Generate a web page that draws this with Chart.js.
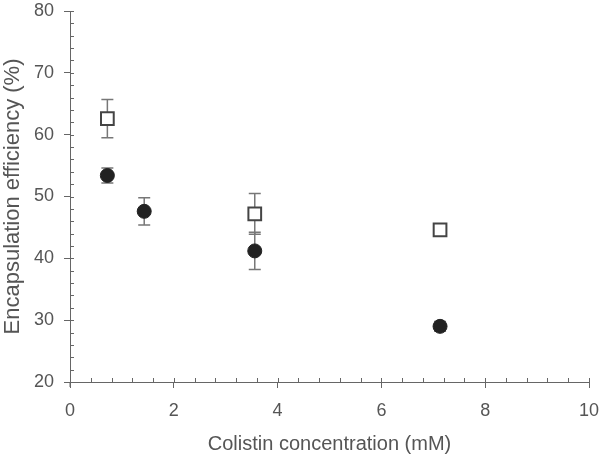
<!DOCTYPE html>
<html>
<head>
<meta charset="utf-8">
<script src="https://cdn.jsdelivr.net/npm/chart.js@4.4.1/dist/chart.umd.min.js"></script>
<style>
  html, body { margin: 0; padding: 0; background: #fff; }
  #wrap { width: 600px; height: 456px; }
</style>
</head>
<body>
<div id="wrap"><canvas id="chart"></canvas></div>
<script>
// colistin concentration (mM)
const circleX = [0.72, 1.43, 3.56, 7.13];
const circleY = [53.4, 47.6, 41.2, 29.0];
const circleErr = [1.2, 2.2, 3.0, 0.8];

const squareX = [0.72, 3.56, 7.13];
const squareY = [62.6, 47.2, 44.6];
const squareErr = [3.1, 3.3, 0.4];

const xTicks = [0, 2, 4, 6, 8, 10];
const yTicks = [20, 30, 40, 50, 60, 70, 80];

const toPoints = (xs, ys) => xs.map((x, i) => ({ x: x, y: ys[i] }));

const axisColor = '#666';
const textColor = '#555';

// error bars + minor ticks, drawn through the scales
const extras = {
  id: 'extras',
  beforeDatasetsDraw(chart) {
    const ctx = chart.ctx;
    const xs = chart.scales.x, ys = chart.scales.y;
    ctx.save();
    ctx.strokeStyle = '#777';
    ctx.lineWidth = 1.5;
    chart.data.datasets.forEach(ds => {
      ds.data.forEach((p, i) => {
        const e = ds.errors[i];
        const px = xs.getPixelForValue(p.x);
        const top = ys.getPixelForValue(p.y + e);
        const bot = ys.getPixelForValue(p.y - e);
        ctx.beginPath();
        ctx.moveTo(px, top); ctx.lineTo(px, bot);
        ctx.moveTo(px - 6, top); ctx.lineTo(px + 6, top);
        ctx.moveTo(px - 6, bot); ctx.lineTo(px + 6, bot);
        ctx.stroke();
      });
    });
    ctx.restore();
  },
  afterDraw(chart) {
    const ctx = chart.ctx;
    const xs = chart.scales.x, ys = chart.scales.y;
    const area = chart.chartArea;
    ctx.save();
    ctx.strokeStyle = axisColor;
    ctx.lineWidth = 1;
    ctx.beginPath();
    for (let v = 0; v <= 10.001; v += 0.4) {
      const px = Math.round(xs.getPixelForValue(v)) + 0.5;
      ctx.moveTo(px, area.bottom); ctx.lineTo(px, area.bottom - 4);
    }
    for (let v = 20; v <= 80.001; v += 2) {
      const py = Math.round(ys.getPixelForValue(v)) + 0.5;
      ctx.moveTo(area.left, py); ctx.lineTo(area.left + 4, py);
    }
    // y axis runs a little past the x axis
    ctx.moveTo(area.left, area.bottom); ctx.lineTo(area.left, area.bottom + 5);
    ctx.stroke();
    ctx.restore();
  }
};

new Chart(document.getElementById('chart'), {
  type: 'scatter',
  data: {
    datasets: [
      {
        label: 'circles',
        data: toPoints(circleX, circleY),
        errors: circleErr,
        pointStyle: 'circle',
        pointRadius: 7,
        pointHoverRadius: 7,
        backgroundColor: '#222',
        borderColor: '#222',
        borderWidth: 1
      },
      {
        label: 'squares',
        data: toPoints(squareX, squareY),
        errors: squareErr,
        pointStyle: 'rect',
        pointRadius: 9,
        pointHoverRadius: 9,
        backgroundColor: '#fff',
        borderColor: '#444',
        borderWidth: 2
      }
    ]
  },
  options: {
    responsive: true,
    maintainAspectRatio: false,
    animation: false,
    layout: { padding: { top: 9, right: 11, left: 0, bottom: 0 } },
    plugins: { legend: { display: false }, tooltip: { enabled: false } },
    scales: {
      x: {
        type: 'linear',
        min: 0, max: 10,
        afterBuildTicks: s => { s.ticks = xTicks.map(v => ({ value: v })); },
        afterFit: s => { s.height = 74; s.paddingLeft = 0; s.paddingRight = 0; },
        border: { display: true, color: axisColor, width: 1 },
        grid: { drawOnChartArea: false, drawTicks: true, tickLength: 6, color: axisColor },
        ticks: { color: textColor, padding: 12, font: { family: 'Arial, Liberation Sans', size: 18 } },
        title: {
          display: true,
          text: 'Colistin concentration (mM)',
          color: textColor,
          padding: { top: 0, bottom: 0 },
          font: { family: 'Arial, Liberation Sans', size: 20 }
        }
      },
      y: {
        type: 'linear',
        min: 20, max: 80,
        afterBuildTicks: s => { s.ticks = yTicks.map(v => ({ value: v })); },
        afterFit: s => { s.width = 70; s.paddingTop = 0; s.paddingBottom = 0; },
        border: { display: true, color: axisColor, width: 1 },
        grid: { drawOnChartArea: false, drawTicks: true, tickLength: 6, color: axisColor },
        ticks: { color: textColor, padding: 10, font: { family: 'Arial, Liberation Sans', size: 18 } },
        title: {
          display: true,
          text: 'Encapsulation efficiency (%)',
          color: textColor,
          padding: { top: 0, bottom: 0 },
          font: { family: 'Arial, Liberation Sans', size: 22 }
        }
      }
    }
  },
  plugins: [extras]
});
</script>
</body>
</html>
